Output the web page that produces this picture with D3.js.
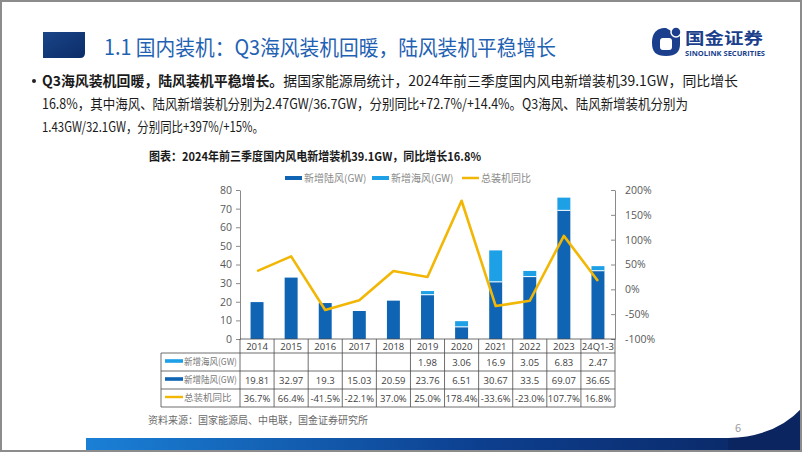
<!DOCTYPE html>
<html><head><meta charset="utf-8">
<script src="https://cdn.jsdelivr.net/npm/d3@7"></script>
<style>
html,body{margin:0;padding:0;background:#fff;}
svg{display:block;font-family:"Noto Sans CJK SC","Noto Sans",sans-serif;}
</style></head>
<body>
<svg id="c" width="802" height="452"></svg>
<script>
// ---------- data ----------
const categories = ["2014","2015","2016","2017","2018","2019","2020","2021","2022","2023","24Q1-3"];
const onshore  = [19.81,32.97,19.3,15.03,20.59,23.76,6.51,30.67,33.5,69.07,36.65];
const offshore = [null,null,null,null,null,1.98,3.06,16.9,3.05,6.83,2.47];
const yoy      = [36.7,66.4,-41.5,-22.1,37.0,25.0,178.4,-33.6,-23.0,107.7,16.8];
const leftTicks  = [0,10,20,30,40,50,60,70,80];
const rightTicks = [-100,-50,0,50,100,150,200];
const seriesNames = ["新增陆风(GW)","新增海风(GW)","总装机同比"];
const tableNames  = ["新增海风(GW)","新增陆风(GW)","总装机同比"];
const pageTitle = "1.1 国内装机：Q3海风装机回暖，陆风装机平稳增长";
const chartTitle = "图表：2024年前三季度国内风电新增装机39.1GW，同比增长16.8%";
const sourceText = "资料来源：国家能源局、中电联，国金证券研究所";

const C_ON = "#0f64b4", C_OFF = "#1ea0e6", C_YOY = "#f2b705";

const svg = d3.select("#c");
const defs = svg.append("defs");
const g1 = defs.append("linearGradient").attr("id","band").attr("x1","0").attr("x2","1");
g1.append("stop").attr("offset","0").attr("stop-color","#1a80d6");
g1.append("stop").attr("offset","0.55").attr("stop-color","#0d3f8f");
g1.append("stop").attr("offset","1").attr("stop-color","#0a2560");
const g2 = defs.append("linearGradient").attr("id","sq").attr("x1","0").attr("y1","0").attr("x2","1").attr("y2","1");
g2.append("stop").attr("offset","0").attr("stop-color","#1a4588");
g2.append("stop").attr("offset","1").attr("stop-color","#0c2c68");

// ---------- header ----------
svg.append("path").attr("d","M43,32H85V53Q85,58 80,58H43Z").attr("fill","url(#sq)");
svg.append("text").attr("x",104).attr("y",55).attr("font-size",21).attr("fill","#1f62b3")
  .attr("textLength",452).attr("lengthAdjust","spacingAndGlyphs").text(pageTitle);

// logo
const lg = svg.append("g");
lg.append("path").attr("d","M666,28 C654,28 652,36 652,43 C652,52 656,56 666,56 C676,56 680,52 680,44 L680,36 Z").attr("fill","#1b3f8c");
lg.append("circle").attr("cx",676).attr("cy",32).attr("r",5).attr("fill","#1b3f8c").attr("stroke","#fff").attr("stroke-width",1.5);
lg.append("rect").attr("x",660).attr("y",38).attr("width",12).attr("height",12).attr("rx",3).attr("fill","#fff");
lg.append("text").attr("x",685).attr("y",44).attr("font-size",16).attr("font-weight","bold").attr("fill","#1b3f8c")
  .attr("textLength",78).attr("lengthAdjust","spacingAndGlyphs").text("国金证券");
lg.append("text").attr("x",685).attr("y",56).attr("font-size",7).attr("font-weight","bold").attr("fill","#1b3f8c")
  .attr("textLength",80).attr("lengthAdjust","spacingAndGlyphs").attr("font-family","Open Sans, sans-serif").text("SINOLINK SECURITIES");

// ---------- bullet text ----------
svg.append("circle").attr("cx",34).attr("cy",81).attr("r",2).attr("fill","#222");
const lines = [
  {y:86, w:696, parts:[["Q3海风装机回暖，陆风装机平稳增长。",true],["据国家能源局统计，2024年前三季度国内风电新增装机39.1GW，同比增长",false]]},
  {y:109,w:646, parts:[["16.8%，其中海风、陆风新增装机分别为2.47GW/36.7GW，分别同比+72.7%/+14.4%。Q3海风、陆风新增装机分别为",false]]},
  {y:132,w:222, parts:[["1.43GW/32.1GW，分别同比+397%/+15%。",false]]}
];
lines.forEach(l=>{
  const t = svg.append("text").attr("x",42).attr("y",l.y).attr("font-size",14).attr("fill","#1a1a1a")
    .attr("textLength",l.w).attr("lengthAdjust","spacingAndGlyphs");
  l.parts.forEach(p=>t.append("tspan").attr("font-weight",p[1]?"bold":"normal").text(p[0]));
});

// ---------- chart ----------
svg.append("text").attr("x",149).attr("y",161).attr("font-size",12).attr("font-weight","bold").attr("fill","#1a1a1a")
  .attr("textLength",332).attr("lengthAdjust","spacingAndGlyphs").text(chartTitle);

const x = d3.scaleBand().domain(categories).range([240,615]).paddingInner(0).paddingOuter(0);
const yL = d3.scaleLinear().domain([0,80]).range([339,190]);
const yR = d3.scaleLinear().domain([-100,200]).range([339,190]);
const bw = x.bandwidth()*0.38;
const cx = c => x(c)+x.bandwidth()/2;

// legend
const legend = [
  {x:285, color:C_ON, h:4, name:seriesNames[0]},
  {x:372, color:C_OFF, h:4, name:seriesNames[1]},
  {x:462, color:C_YOY, h:2.5, name:seriesNames[2]}
];
legend.forEach(d=>{
  svg.append("rect").attr("x",d.x).attr("y",178-d.h/2).attr("width",17).attr("height",d.h).attr("fill",d.color);
  svg.append("text").attr("x",d.x+19).attr("y",182).attr("font-size",10).attr("fill","#8a8a8a").text(d.name);
});

// bars
const bars = svg.append("g");
categories.forEach((c,i)=>{
  const on = onshore[i], off = offshore[i]||0;
  bars.append("rect").attr("x",cx(c)-bw/2).attr("y",yL(on)).attr("width",bw).attr("height",yL(0)-yL(on)).attr("fill",C_ON);
  if(offshore[i]!=null){
    bars.append("rect").attr("x",cx(c)-bw/2).attr("y",yL(on+off)).attr("width",bw).attr("height",yL(on)-yL(on+off)).attr("fill",C_OFF);
    bars.append("line").attr("x1",cx(c)-bw/2).attr("x2",cx(c)+bw/2).attr("y1",yL(on)).attr("y2",yL(on)).attr("stroke","#fff").attr("stroke-width",1);
  }
});

// axes
const axL = svg.append("g").attr("transform","translate(240,0)")
  .call(d3.axisLeft(yL).tickValues(leftTicks).tickSizeInner(4).tickSizeOuter(0).tickPadding(4));
const axR = svg.append("g").attr("transform","translate(615,0)")
  .call(d3.axisRight(yR).tickValues(rightTicks).tickSize(0).tickPadding(10).tickFormat(d=>d+"%"));
axR.selectAll(".tick line").attr("x2",-4);
[axL,axR].forEach(a=>{
  a.selectAll("path,line").attr("stroke","#8a8a8a");
  a.selectAll("text").attr("font-size",10.5).attr("fill","#595959").attr("font-family","Open Sans, Noto Sans, sans-serif");
});

// yoy line
svg.append("path").datum(yoy)
  .attr("d",d3.line().x((d,i)=>cx(categories[i])).y(d=>yR(d)))
  .attr("fill","none").attr("stroke",C_YOY).attr("stroke-width",2.6).attr("stroke-linejoin","round");

// ---------- data table ----------
const rowY = [339,353,371,389,407];
const tb = svg.append("g").attr("stroke","#4a4a4a").attr("stroke-width",0.8);
tb.append("line").attr("x1",240).attr("x2",615).attr("y1",339).attr("y2",339);
[353,371,389,407].forEach(y=>tb.append("line").attr("x1",161).attr("x2",615).attr("y1",y).attr("y2",y));
tb.append("line").attr("x1",161).attr("x2",161).attr("y1",353).attr("y2",407);
categories.forEach(c=>tb.append("line").attr("x1",x(c)).attr("x2",x(c)).attr("y1",339).attr("y2",407));
tb.append("line").attr("x1",615).attr("x2",615).attr("y1",339).attr("y2",407);

const tt = svg.append("g").attr("font-size",9.5).attr("fill","#404040").attr("text-anchor","middle")
  .attr("font-family","Open Sans, Noto Sans, sans-serif");
categories.forEach((c,i)=>{
  tt.append("text").attr("x",cx(c)).attr("y",350).text(c);
  if(offshore[i]!=null) tt.append("text").attr("x",cx(c)).attr("y",366).text(offshore[i]);
  tt.append("text").attr("x",cx(c)).attr("y",384).text(onshore[i]);
  tt.append("text").attr("x",cx(c)).attr("y",402).text(yoy[i].toFixed(1)+"%");
});
const keyColors = [C_OFF,C_ON,C_YOY];
tableNames.forEach((n,i)=>{
  const yc = (rowY[i+1]+rowY[i+2])/2;
  svg.append("rect").attr("x",165).attr("y",yc-(i==2?1.2:1.8)-1).attr("width",18).attr("height",i==2?2.4:3.6).attr("fill",keyColors[i]);
  const t = svg.append("text").attr("x",184).attr("y",yc+3).attr("font-size",9.5).attr("fill","#7a7a7a").text(n);
  if(i<2) t.attr("textLength",53).attr("lengthAdjust","spacingAndGlyphs");
});

// source
svg.append("text").attr("x",148).attr("y",424).attr("font-size",10).attr("fill","#6a6a6a").text(sourceText);

// ---------- footer ----------
svg.append("rect").attr("x",86).attr("y",438).attr("width",716).attr("height",13).attr("fill","url(#band)");
svg.append("path").attr("d","M728,438 Q775,437 802,408 L802,452 L728,452 Z").attr("fill","#0a2560");
svg.append("text").attr("x",735).attr("y",432).attr("font-size",11).attr("fill","#9a9a9a").text("6");

// frame
svg.append("rect").attr("x",1).attr("y",1).attr("width",800).attr("height",450).attr("fill","none").attr("stroke","#8c8c8c").attr("stroke-width",2);
</script>
</body></html>
